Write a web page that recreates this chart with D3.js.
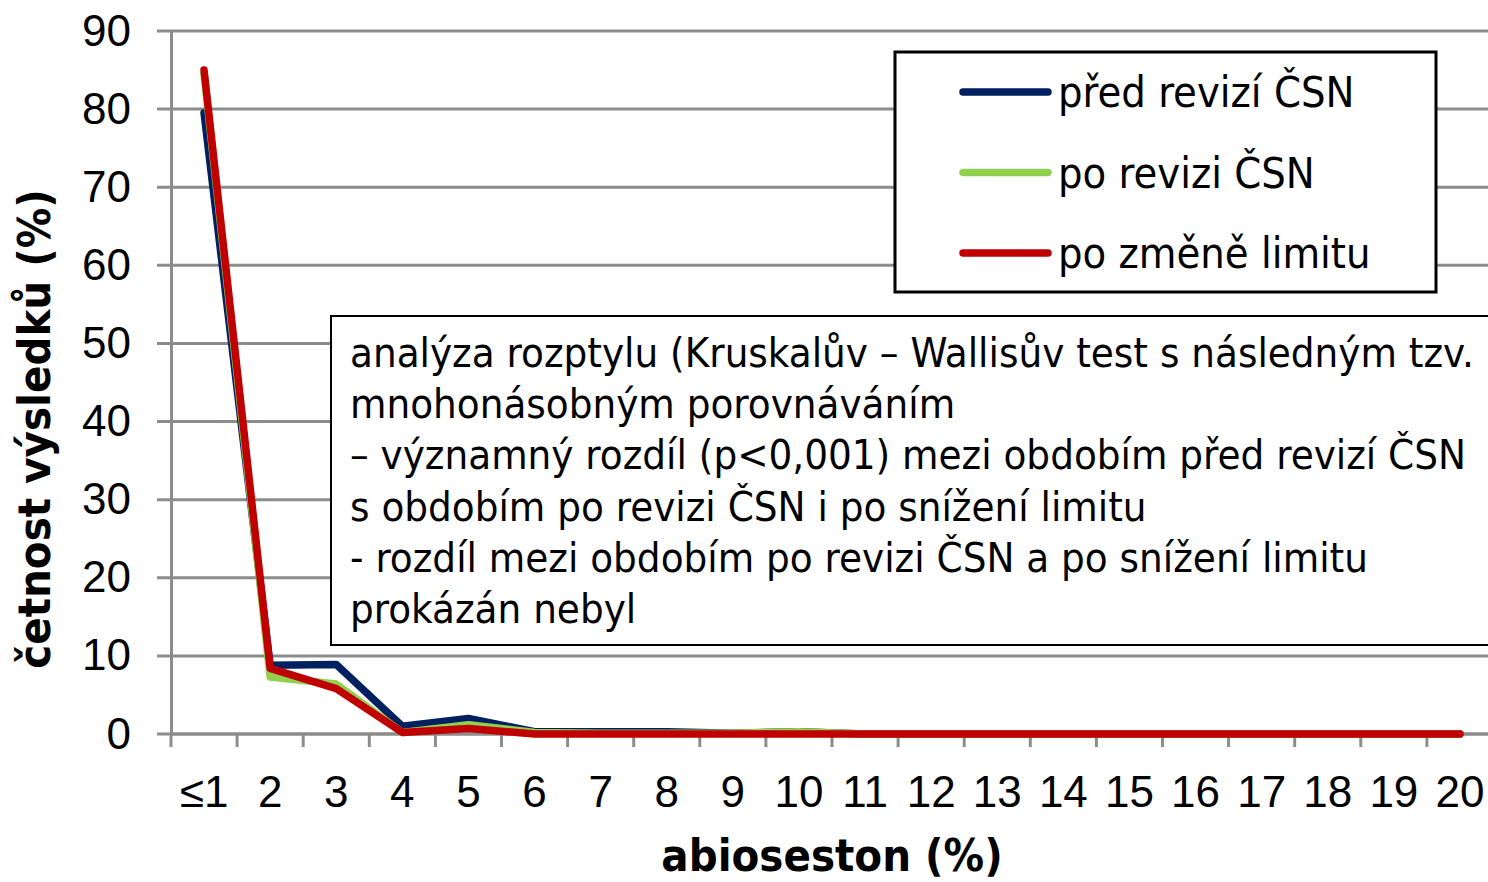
<!DOCTYPE html>
<html>
<head>
<meta charset="utf-8">
<script src="https://cdn.jsdelivr.net/npm/d3@7"></script>
<style>
  body { margin: 0; background: #fff; }
  svg { display: block; font-family: "DejaVu Sans Condensed", "DejaVu Sans", sans-serif; }
</style>
</head>
<body>
<div id="main"></div>
<script>
const categories = ["≤1", "2", "3", "4", "5", "6", "7", "8", "9", "10", "11", "12", "13", "14", "15", "16", "17", "18", "19", "20"];
const predRevizi = [79.5, 8.8, 8.9, 1.0, 2.0, 0.3, 0.3, 0.3, 0.1, 0.3, 0, 0, 0, 0, 0, 0, 0, 0, 0, 0];
const poRevizi = [84.5, 7.3, 6.4, 0.2, 1.2, 0.2, 0.1, 0.1, 0.1, 0.3, 0, 0, 0, 0, 0, 0, 0, 0, 0, 0];
const poZmene = [85.0, 8.4, 5.8, 0.2, 0.7, 0, 0, 0, 0, 0, 0, 0, 0, 0, 0, 0, 0, 0, 0, 0];
const seriesNames = ["před revizí ČSN", "po revizi ČSN", "po změně limitu"];
const yTicks = [0, 10, 20, 30, 40, 50, 60, 70, 80, 90];
const noteLines = [
  "analýza rozptylu (Kruskalův – Wallisův test s následným tzv.",
  "mnohonásobným porovnáváním",
  "– významný rozdíl (p<0,001) mezi obdobím před revizí ČSN",
  "s obdobím po revizi ČSN i po snížení limitu",
  "- rozdíl mezi obdobím po revizi ČSN a po snížení limitu",
  "prokázán nebyl"
];

const width = 1488, height = 882;
const plotL = 171, plotR = 1493, plotT = 31, plotB = 734;
const colors = ["#002060", "#92d050", "#c00000"];
const series = [predRevizi, poRevizi, poZmene];

const svg = d3.select("#main").append("svg").attr("width", width).attr("height", height);

const x = d3.scaleBand().domain(categories).range([plotL, plotR]);
const y = d3.scaleLinear().domain([0, 90]).range([plotB, plotT]);

// gridlines
svg.append("g")
  .selectAll("line")
  .data(yTicks)
  .join("line")
  .attr("x1", plotL - 14).attr("x2", plotR)
  .attr("y1", (d) => y(d)).attr("y2", (d) => y(d))
  .attr("stroke", "#8c8c8c").attr("stroke-width", 3);

// y axis
const yAxis = svg.append("g")
  .attr("transform", `translate(${plotL},0)`)
  .call(d3.axisLeft(y).tickValues(yTicks).tickSize(0).tickPadding(40));
yAxis.select(".domain").attr("stroke", "#8c8c8c").attr("stroke-width", 3);
yAxis.selectAll("text").attr("font-size", 44).attr("fill", "#000");

// x axis
const xAxis = svg.append("g")
  .attr("transform", `translate(0,${plotB})`)
  .call(d3.axisBottom(x).tickSize(0).tickPadding(42));
xAxis.select(".domain").remove();
xAxis.selectAll("text").attr("font-size", 44).attr("fill", "#000").attr("dy", "0.71em");
svg.append("line")
  .attr("x1", plotL).attr("x2", plotR).attr("y1", plotB).attr("y2", plotB)
  .attr("stroke", "#8c8c8c").attr("stroke-width", 3);
svg.append("g")
  .selectAll("line")
  .data(d3.range(categories.length + 1))
  .join("line")
  .attr("x1", (i) => plotL + i * x.step()).attr("x2", (i) => plotL + i * x.step())
  .attr("y1", plotB).attr("y2", plotB + 13)
  .attr("stroke", "#8c8c8c").attr("stroke-width", 3);

// lines
const line = d3.line()
  .x((d, i) => x(categories[i]) + x.bandwidth() / 2)
  .y((d) => y(d));
series.forEach((s, k) => {
  svg.append("path")
    .datum(s)
    .attr("d", line)
    .attr("fill", "none")
    .attr("stroke", colors[k])
    .attr("stroke-width", 7.5)
    .attr("stroke-linejoin", "round")
    .attr("stroke-linecap", "round");
});

// note box
svg.append("rect")
  .attr("x", 331).attr("y", 316).attr("width", 1200).attr("height", 329)
  .attr("fill", "#fff").attr("stroke", "#000").attr("stroke-width", 2);
svg.append("g")
  .selectAll("text")
  .data(noteLines)
  .join("text")
  .attr("x", 350)
  .attr("y", (d, i) => 367 + i * 51.2)
  .attr("font-size", 41.6)
  .text((d) => d);

// legend
svg.append("rect")
  .attr("x", 895).attr("y", 52).attr("width", 541).attr("height", 240)
  .attr("fill", "#fff").attr("stroke", "#000").attr("stroke-width", 3);
const lg = svg.append("g")
  .selectAll("g")
  .data(seriesNames)
  .join("g")
  .attr("transform", (d, i) => `translate(0,${92 + i * 80.5})`);
lg.append("line")
  .attr("x1", 963).attr("x2", 1048)
  .attr("stroke", (d, i) => colors[i]).attr("stroke-width", 7.5)
  .attr("stroke-linecap", "round");
lg.append("text")
  .attr("x", 1058).attr("dy", "0.35em")
  .attr("font-size", 43)
  .text((d) => d);

// axis titles
svg.append("text")
  .attr("x", 832).attr("y", 871)
  .attr("text-anchor", "middle")
  .attr("font-size", 45).attr("font-weight", "bold")
  .text("abioseston (%)");
svg.append("text")
  .attr("transform", "translate(50,429) rotate(-90)")
  .attr("text-anchor", "middle")
  .attr("font-size", 45).attr("font-weight", "bold")
  .text("četnost výsledků (%)");
</script>
</body>
</html>
